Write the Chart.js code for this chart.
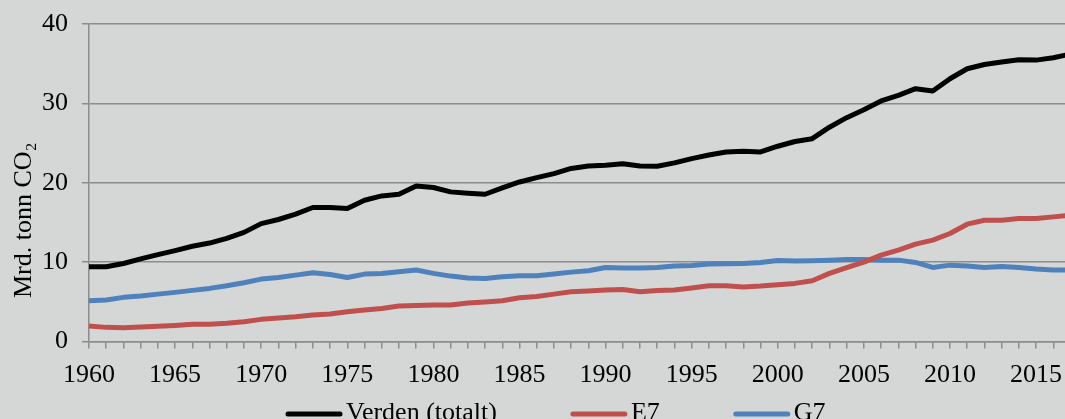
<!DOCTYPE html>
<html>
<head>
<meta charset="utf-8">
<script src="https://cdn.jsdelivr.net/npm/chart.js@4/dist/chart.umd.min.js"></script>
<style>
  html, body { margin: 0; padding: 0; background: #d5d7d6; }
  #wrap { width: 1065px; height: 419px; position: relative; }
</style>
</head>
<body>
<div id="wrap"><canvas id="c"></canvas></div>
<script>
const years = [];
for (let y = 1960; y <= 2017; y++) years.push(y);

const seriesNames = ['Verden (totalt)', 'E7', 'G7'];
const yAxisTitle = 'Mrd. tonn CO₂';

const verden = [9.41, 9.42, 9.83, 10.4, 10.95, 11.45, 12.0, 12.4, 13.0, 13.75, 14.85, 15.37,
  16.05, 16.88, 16.88, 16.75, 17.8, 18.34, 18.55, 19.6, 19.4, 18.85, 18.68, 18.55,
  19.35, 20.1, 20.65, 21.15, 21.8, 22.1, 22.2, 22.4, 22.1, 22.08, 22.5, 23.04,
  23.5, 23.88, 23.96, 23.88, 24.6, 25.2, 25.55, 27.0, 28.2, 29.2, 30.3, 31.0,
  31.85, 31.55, 33.1, 34.36, 34.9, 35.2, 35.5, 35.45, 35.75, 36.2];

const e7 = [1.95, 1.78, 1.74, 1.82, 1.91, 2.03, 2.18, 2.16, 2.29, 2.49, 2.79, 2.96,
  3.12, 3.33, 3.46, 3.75, 3.96, 4.17, 4.47, 4.55, 4.59, 4.59, 4.84, 4.97,
  5.13, 5.51, 5.68, 5.97, 6.26, 6.35, 6.48, 6.56, 6.26, 6.42, 6.48, 6.73,
  7.02, 7.02, 6.86, 6.98, 7.15, 7.32, 7.65, 8.58, 9.3, 10.0, 10.88, 11.5,
  12.26, 12.77, 13.61, 14.78, 15.28, 15.28, 15.5, 15.5, 15.7, 15.9];

const g7 = [5.13, 5.22, 5.56, 5.72, 5.97, 6.19, 6.44, 6.69, 7.02, 7.4, 7.86, 8.07,
  8.36, 8.66, 8.45, 8.07, 8.49, 8.58, 8.78, 9.0, 8.58, 8.24, 8.0, 7.95,
  8.15, 8.28, 8.28, 8.49, 8.74, 8.91, 9.33, 9.25, 9.25, 9.33, 9.5, 9.58,
  9.75, 9.79, 9.83, 9.96, 10.21, 10.13, 10.17, 10.25, 10.34, 10.34, 10.25, 10.25,
  9.96, 9.33, 9.62, 9.5, 9.33, 9.46, 9.33, 9.12, 9.0, 9.0];

const yTicks = [0, 10, 20, 30, 40];
const colors = ['#000000', '#c0504d', '#4f81bd'];

const FONT = "'Liberation Serif', 'Times New Roman', serif";
const GRID = '#8c8c8c';

function toXY(arr) { return arr.map((v, i) => ({ x: years[i], y: v })); }

const customDecor = {
  id: 'customDecor',
  beforeDraw(chart) {
    const ctx = chart.ctx;
    ctx.save();
    ctx.fillStyle = '#d5d7d6';
    ctx.fillRect(0, 0, chart.width, chart.height);
    ctx.restore();
  },
  afterDraw(chart) {
    const ctx = chart.ctx;
    // y axis title
    ctx.save();
    ctx.fillStyle = '#000';
    ctx.font = '26px ' + FONT;
    ctx.textBaseline = 'alphabetic';
    ctx.textAlign = 'left';
    ctx.translate(30.5, 298);
    ctx.rotate(-Math.PI / 2);
    ctx.fillText(yAxisTitle, 0, 0);
    ctx.restore();
    // legend
    ctx.save();
    ctx.font = '26px ' + FONT;
    ctx.textBaseline = 'alphabetic';
    ctx.textAlign = 'left';
    let x = 286;
    const lineY = 414, textY = 420;
    chart.data.datasets.forEach((ds, i) => {
      ctx.strokeStyle = ds.borderColor;
      ctx.lineWidth = 5;
      ctx.lineCap = 'round';
      ctx.beginPath();
      ctx.moveTo(x + 2, lineY);
      ctx.lineTo(x + 54, lineY);
      ctx.stroke();
      ctx.fillStyle = '#000';
      ctx.fillText(ds.label, x + 60, textY);
      x += 60 + ctx.measureText(ds.label).width + 74;
    });
    ctx.restore();
  }
};

new Chart(document.getElementById('c'), {
  type: 'line',
  data: {
    datasets: [
      { label: seriesNames[0], data: toXY(verden), borderColor: colors[0] },
      { label: seriesNames[1], data: toXY(e7), borderColor: colors[1] },
      { label: seriesNames[2], data: toXY(g7), borderColor: colors[2] }
    ]
  },
  options: {
    responsive: true,
    maintainAspectRatio: false,
    animation: false,
    devicePixelRatio: 1,
    layout: { padding: { top: 24, right: 0, bottom: 0, left: 0 } },
    elements: {
      line: { borderWidth: 5, tension: 0, borderJoinStyle: 'round', borderCapStyle: 'butt' },
      point: { radius: 0, hoverRadius: 0 }
    },
    plugins: {
      legend: { display: false },
      tooltip: { enabled: false }
    },
    scales: {
      x: {
        type: 'linear',
        min: 1960,
        max: 2016.68,
        afterFit(scale) {
          scale.height = 77.5;
          scale.paddingLeft = 0; scale.paddingRight = 0;
        },
        grid: { drawOnChartArea: false, drawTicks: true, tickLength: 7, color: GRID, lineWidth: 1.5 },
        border: { color: GRID, width: 1.5 },
        ticks: {
          stepSize: 1,
          autoSkip: false,
          maxRotation: 0,
          includeBounds: false,
          padding: 11,
          color: '#000',
          font: { family: FONT, size: 26 },
          callback: (v) => (v % 5 === 0 ? String(v) : '')
        }
      },
      y: {
        min: 0,
        max: 40,
        afterFit(scale) {
          scale.width = 89;
          scale.paddingTop = 0; scale.paddingBottom = 0;
        },
        afterBuildTicks(scale) { scale.ticks = yTicks.map(v => ({ value: v })); },
        grid: { drawTicks: true, tickLength: 7, color: GRID, lineWidth: 1.5 },
        border: { color: GRID, width: 1.5 },
        ticks: {
          padding: 14,
          color: '#000',
          font: { family: FONT, size: 26 }
        }
      }
    }
  },
  plugins: [customDecor]
});
</script>
</body>
</html>
